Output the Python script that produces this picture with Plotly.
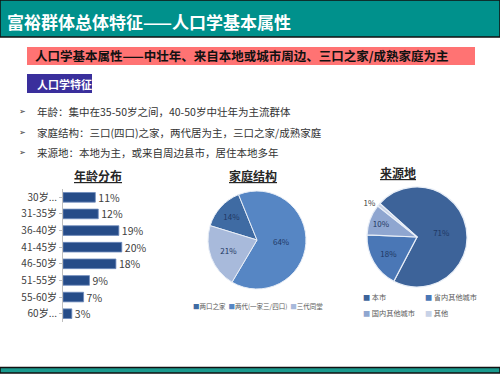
import plotly.graph_objects as go

FONT = "Noto Sans CJK SC"

# ---- data ----
age_labels = ["30岁...", "31-35岁", "36-40岁", "41-45岁", "46-50岁", "51-55岁", "55-60岁", "60岁..."]
age_values = [11, 12, 19, 20, 18, 9, 7, 3]

family_labels = ["两口之家", "两代(一家三/四口)", "三代同堂"]
family_values = [14, 64, 21]
family_colors = ["#3F6BA3", "#5686C4", "#A8BADB"]

origin_labels = ["本市", "省内其他城市", "国内其他城市", "其他"]
origin_values = [71, 18, 10, 1]
origin_colors = ["#3D6399", "#4A77B6", "#8FA6D0", "#C8D2E7"]

bullets = [
    "年龄：集中在35-50岁之间，40-50岁中壮年为主流群体",
    "家庭结构：三口(四口)之家，两代居为主，三口之家/成熟家庭",
    "来源地：本地为主，或来自周边县市，居住本地多年",
]

W, H = 500, 375
def px(x):
    return x / W
def py(y):
    return 1 - y / H

fig = go.Figure()

# ---- bar chart ----
fig.add_trace(go.Bar(
    x=age_values, y=age_labels, orientation="h",
    marker=dict(color="#264C88", line=dict(color="#6E8CBD", width=0.8)),
    text=[f"{v}%" for v in age_values], textposition="outside", constraintext="none",
    textfont=dict(family=FONT, size=10.5, color="#404040"),
    cliponaxis=False, showlegend=False, hoverinfo="skip",
))

# ---- pies ----
fig.add_trace(go.Pie(
    labels=family_labels, values=family_values, sort=False, direction="clockwise",
    rotation=287, marker=dict(colors=family_colors, line=dict(color="#E8EEF7", width=1)),
    texttemplate="%{value}%", textposition="inside",
    insidetextorientation="horizontal",
    textfont=dict(family=FONT, size=8, color="#1F3864"),
    domain=dict(x=[px(208), px(306)], y=[py(289), py(191)]),
    showlegend=False, hoverinfo="skip",
))
fig.add_trace(go.Pie(
    labels=origin_labels, values=origin_values, sort=False, direction="clockwise",
    rotation=312, marker=dict(colors=origin_colors, line=dict(color="#E8EEF7", width=1.2)),
    texttemplate="%{value}%", textposition=["inside", "inside", "inside", "outside"],
    insidetextorientation="horizontal",
    textfont=dict(family=FONT, size=8, color="#1F3864"),
    outsidetextfont=dict(family=FONT, size=8, color="#404040"),
    domain=dict(x=[px(364), px(470)], y=[py(287), py(187)]),
    showlegend=False, hoverinfo="skip",
))

shapes = [
    # header
    dict(type="rect", xref="paper", yref="paper", x0=0, x1=1, y0=py(37), y1=1,
         fillcolor="#00918C", line=dict(color="#111111", width=1.5), layer="below"),
    # footer
    dict(type="rect", xref="paper", yref="paper", x0=0, x1=1, y0=py(373), y1=py(367.5),
         fillcolor="#1A9A8E", line=dict(color="#111111", width=1.5), layer="below"),
    # pink banner
    dict(type="rect", xref="paper", yref="paper", x0=px(27), x1=px(475), y0=py(65), y1=py(47),
         fillcolor="#FF7373", line=dict(width=0), layer="below"),
    # purple tag
    dict(type="rect", xref="paper", yref="paper", x0=px(27), x1=px(92), y0=py(93), y1=py(74),
         fillcolor="#3A2F9C", line=dict(width=0), layer="below"),
]

ann = [
    dict(text="<b>富裕群体总体特征——人口学基本属性</b>", x=px(5), y=py(21), xanchor="left", yanchor="middle",
         font=dict(family=FONT, size=17, color="white")),
    dict(text="<b>人口学基本属性——中壮年、来自本地或城市周边、三口之家/成熟家庭为主</b>", x=px(33), y=py(56),
         xanchor="left", yanchor="middle", font=dict(family=FONT, size=12.5, color="#111111")),
    dict(text="<b>人口学特征</b>", x=px(35), y=py(83.5), xanchor="left", yanchor="middle",
         font=dict(family=FONT, size=11, color="white")),
    dict(text="<b><u>年龄分布</u></b>", x=px(98), y=py(175), xanchor="center", yanchor="middle",
         font=dict(family=FONT, size=12, color="#262626")),
    dict(text="<b><u>家庭结构</u></b>", x=px(253), y=py(175), xanchor="center", yanchor="middle",
         font=dict(family=FONT, size=12, color="#262626")),
    dict(text="<b><u>来源地</u></b>", x=px(398), y=py(172), xanchor="center", yanchor="middle",
         font=dict(family=FONT, size=12, color="#262626")),
]
for i, t in enumerate(bullets):
    yy = py(112 + i * 20.5)
    ann.append(dict(text="➢", x=px(17), y=yy, xanchor="left", yanchor="middle",
                    font=dict(family="DejaVu Sans", size=8, color="#333333")))
    ann.append(dict(text=t, x=px(35), y=yy, xanchor="left", yanchor="middle",
                    font=dict(family=FONT, size=10.5, color="#333333")))

# legend for family pie (single row)
fam_leg = "  ".join(f"<span style='color:{c}'>■</span>{l}" for l, c in zip(family_labels, family_colors))
ann.append(dict(text=fam_leg, x=px(258), y=py(306), xanchor="center", yanchor="middle",
                font=dict(family=FONT, size=6.5, color="#595959")))
# legend for origin pie (2x2)
pos = [(361, 297), (423, 297), (361, 313), (423, 313)]
for (lx, ly), l, c in zip(pos, origin_labels, origin_colors):
    ann.append(dict(text=f"<span style='color:{c}'>■</span> {l}", x=px(lx), y=py(ly), xanchor="left",
                    yanchor="middle", font=dict(family=FONT, size=7.2, color="#595959")))

for a in ann:
    a.update(xref="paper", yref="paper", showarrow=False)

fig.update_layout(
    width=W, height=H, margin=dict(l=0, r=0, t=0, b=0),
    paper_bgcolor="white", plot_bgcolor="white",
    shapes=shapes, annotations=ann, bargap=0.42,
    xaxis=dict(domain=[px(63), px(160)], range=[0, 33], visible=False, fixedrange=True),
    yaxis=dict(domain=[py(322), py(189)], categoryorder="array", categoryarray=age_labels,
               autorange="reversed", showline=True, linecolor="#BFBFBF", linewidth=1,
               ticks="outside", ticklen=3, tickcolor="#BFBFBF", showgrid=False,
               tickfont=dict(family=FONT, size=10, color="#404040"), fixedrange=True),
    font=dict(family=FONT),
)

fig.write_html("out.html", config={"displayModeBar": False},
               post_script="document.body.style.margin='0';document.body.style.overflow='hidden';")
